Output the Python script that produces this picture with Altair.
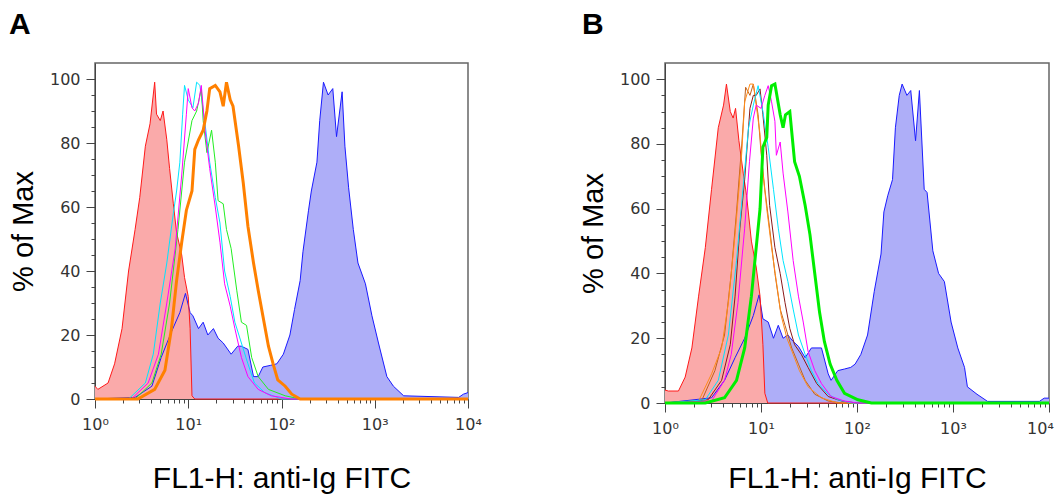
import altair as alt
import numpy as np
import pandas as pd

# ---------- Panel A (x given as log10 of FL1-H intensity, y as % of Max) ----------
A_red_log = [0, 0.03, 0.14, 0.21, 0.29, 0.36, 0.43, 0.48, 0.54, 0.59, 0.64, 0.66, 0.70, 0.73, 0.77, 0.80, 0.84, 0.875, 0.93, 0.96, 1.0, 1.02, 1.04, 1.07, 4.0]
A_red_val = [4, 3, 5, 11, 22, 40, 53, 63, 79, 86, 99, 89, 87, 90, 81, 72, 61, 52, 45, 38, 32, 22, 1, 0, 0]

A_blue_log = [0, 0.43, 0.61, 0.71, 0.82, 0.91, 0.97, 1.02, 1.05, 1.11, 1.16, 1.21, 1.27, 1.32, 1.375, 1.46, 1.53, 1.57, 1.64, 1.70, 1.75, 1.80, 1.88, 1.95, 2.02, 2.09, 2.14, 2.20, 2.23, 2.29, 2.32, 2.38, 2.41, 2.45, 2.50, 2.55, 2.59, 2.65, 2.68, 2.72, 2.77, 2.82, 2.90, 2.97, 3.04, 3.13, 3.20, 3.31, 3.90, 3.95, 4.0]
A_blue_val = [0, 0.5, 4, 13, 21, 27, 33, 27, 26, 22, 24, 20, 22, 19, 17.5, 14, 16.5, 16.5, 15.5, 7, 7, 10, 10.5, 11, 14, 20, 28, 37, 46, 59, 65, 74, 87, 99, 95, 97, 82, 96, 79, 66, 53, 42.5, 36, 26, 17.5, 7, 4, 1, 0.5, 1.5, 2]

A_cyan_log = [0, 0.36, 0.54, 0.625, 0.70, 0.77, 0.84, 0.875, 0.91, 0.94, 0.96, 1.0, 1.05, 1.09, 1.125, 1.18, 1.23, 1.29, 1.34, 1.39, 1.45, 1.50, 1.57, 1.64, 1.71, 1.82, 2.0, 4.0]
A_cyan_val = [0, 0, 5, 14, 30, 42.5, 58, 65, 74, 89, 98, 93.5, 91, 99, 98, 86, 74, 63, 55, 40, 32, 24, 17.5, 11, 5, 2, 0, 0]

A_magenta_log = [0, 0.39, 0.57, 0.68, 0.77, 0.86, 0.93, 0.98, 1.0, 1.04, 1.07, 1.11, 1.14, 1.18, 1.23, 1.29, 1.34, 1.39, 1.45, 1.50, 1.57, 1.64, 1.75, 1.89, 2.1, 4.0]
A_magenta_val = [0, 0, 5, 14, 30, 47, 70, 89, 97, 91, 90, 92.5, 98, 84, 72, 60, 49, 36, 29, 22, 13, 7, 3, 1, 0, 0]

A_green_log = [0, 0.43, 0.61, 0.71, 0.80, 0.89, 0.96, 1.04, 1.09, 1.14, 1.16, 1.20, 1.25, 1.29, 1.32, 1.375, 1.41, 1.46, 1.52, 1.57, 1.625, 1.68, 1.75, 1.86, 2.04, 2.2, 4.0]
A_green_val = [0, 0, 5, 14, 30, 53, 74, 87, 90, 97, 87, 77, 84, 74, 62, 61, 53, 47, 34, 24, 23, 13, 7, 3, 1, 0, 0]

A_orange_log = [0, 0.46, 0.64, 0.75, 0.82, 0.875, 0.93, 0.98, 1.04, 1.07, 1.11, 1.16, 1.20, 1.23, 1.29, 1.34, 1.375, 1.41, 1.45, 1.48, 1.54, 1.59, 1.64, 1.70, 1.75, 1.80, 1.86, 1.91, 1.96, 2.04, 2.11, 2.2, 4.0]
A_orange_val = [0, 0, 3, 9, 22, 37, 49, 59, 65, 78, 81, 84, 90, 97, 98, 96, 91.5, 99, 93.5, 91.5, 79, 67.5, 54, 42.5, 34, 26, 16.5, 11, 6, 4, 1.5, 0, 0]

# ---------- Panel B ----------
B_red_log = [0, 0.035, 0.14, 0.21, 0.28, 0.35, 0.42, 0.485, 0.555, 0.61, 0.64, 0.68, 0.71, 0.735, 0.77, 0.815, 0.85, 0.90, 0.95, 0.99, 1.02, 1.04, 1.07, 4.0]
B_red_val = [4, 3.7, 3.7, 8, 17, 33, 48, 66, 85, 92, 98.5, 90, 88, 91, 81, 71, 64, 50, 42, 33, 18, 3, 0, 0]

B_blue_log = [0, 0.485, 0.62, 0.73, 0.83, 0.92, 0.98, 1.02, 1.075, 1.13, 1.18, 1.23, 1.28, 1.335, 1.39, 1.46, 1.525, 1.63, 1.70, 1.73, 1.80, 1.87, 1.935, 1.98, 2.04, 2.11, 2.18, 2.25, 2.28, 2.32, 2.37, 2.40, 2.44, 2.47, 2.52, 2.56, 2.61, 2.65, 2.70, 2.73, 2.79, 2.85, 2.91, 2.98, 3.05, 3.12, 3.15, 3.25, 3.36, 3.9, 3.95, 4.0]
B_blue_val = [0, 1.6, 7, 14, 20, 27, 33.4, 26, 25, 20, 24, 20, 21, 19, 17.5, 14, 17, 17, 9, 7, 10, 10.5, 11, 12, 15, 21, 34.5, 46, 59, 64, 69, 85, 95, 98.5, 95, 96.5, 81, 96.5, 66, 65, 47, 40, 37.5, 25, 17, 11, 5, 2.7, 0.5, 0.5, 1.5, 1.5]

B_sienna_log = [0, 0.38, 0.52, 0.62, 0.69, 0.745, 0.80, 0.84, 0.885, 0.92, 0.97, 1.0, 1.04, 1.09, 1.145, 1.20, 1.25, 1.32, 1.39, 1.46, 1.56, 1.70, 1.85, 4.0]
B_sienna_val = [0, 0.6, 10, 21, 40, 59, 80, 97.5, 95, 98.5, 89, 77.5, 66, 54, 40, 29, 24, 17, 12, 7, 2.7, 0.6, 0, 0]

B_orange_log = [0, 0.35, 0.485, 0.59, 0.66, 0.73, 0.77, 0.80, 0.83, 0.885, 0.92, 0.95, 0.99, 1.02, 1.06, 1.11, 1.16, 1.21, 1.27, 1.335, 1.40, 1.49, 1.63, 1.8, 4.0]
B_orange_val = [0, 0.6, 9, 17, 31, 52, 66, 77.5, 93, 98.5, 98.5, 92, 83, 71, 60, 48, 37.5, 27, 20, 15, 10, 5, 1.6, 0, 0]

B_maroon_log = [0, 0.45, 0.59, 0.68, 0.73, 0.78, 0.83, 0.885, 0.92, 0.95, 0.99, 1.02, 1.06, 1.09, 1.145, 1.20, 1.25, 1.30, 1.35, 1.42, 1.49, 1.58, 1.70, 1.84, 2.0, 4.0]
B_maroon_val = [0, 1, 7, 18, 33, 54, 69, 91, 95, 95, 97, 89, 76.5, 61, 48, 40, 31, 23, 18, 15, 11, 6, 2, 0.6, 0, 0]

B_cyan_log = [0, 0.42, 0.555, 0.66, 0.745, 0.815, 0.87, 0.92, 0.97, 1.02, 1.075, 1.13, 1.18, 1.23, 1.28, 1.335, 1.39, 1.46, 1.525, 1.595, 1.70, 1.80, 1.95, 4.0]
B_cyan_val = [0, 1, 7, 21, 44, 67, 85, 92, 98, 90, 79, 66, 54, 44, 37.5, 29, 21, 15, 10, 6, 2.7, 1, 0, 0]

B_magenta_log = [0, 0.485, 0.62, 0.69, 0.76, 0.83, 0.88, 0.92, 0.95, 1.0, 1.04, 1.075, 1.11, 1.145, 1.16, 1.20, 1.23, 1.28, 1.335, 1.39, 1.44, 1.49, 1.56, 1.63, 1.73, 1.87, 2.0, 4.0]
B_magenta_val = [0, 0.6, 7, 15, 31, 54, 74.5, 88, 92, 91, 95, 98, 93, 87, 76.5, 80.6, 71, 59, 44, 33, 25, 16, 10, 6, 2, 0.6, 0, 0]

B_green_log = [0, 0.42, 0.62, 0.745, 0.83, 0.90, 0.95, 0.99, 1.02, 1.06, 1.075, 1.11, 1.145, 1.20, 1.23, 1.255, 1.30, 1.35, 1.40, 1.46, 1.51, 1.56, 1.61, 1.66, 1.72, 1.79, 1.87, 2.01, 2.15, 4.0]
B_green_val = [0, 0, 1.6, 7, 17, 33, 48, 60, 79, 82, 92, 98, 98.5, 89, 85, 89, 90, 74.5, 70, 61, 52, 40, 28, 19, 12, 7, 3, 1, 0, 0]

# axis ticks
X_TICKS = [m * 10 ** d for d in range(4) for m in range(1, 10)] + [10000]
Y_TICKS = list(range(0, 101, 5))
X_LABELS = {1: "10⁰", 10: "10¹", 100: "10²", 1000: "10³", 10000: "10⁴"}


def frame(logs, vals):
    return pd.DataFrame({"fl1": 10 ** np.array(logs, dtype=float), "pct": vals})


def encodings(x_title_pad, last_label_shift):
    label_expr = " : ".join(
        f"datum.value == {k} ? '{v}'" for k, v in X_LABELS.items()
    ) + " : ''"
    xaxis = alt.Axis(
        values=X_TICKS,
        labelExpr=label_expr,
        tickSize={"condition": {"test": "indexof([1,10,100,1000,10000], datum.value) >= 0", "value": 9}, "value": 4},
        labelOffset={"condition": {"test": "datum.value == 10000", "value": last_label_shift}, "value": 0},
        labelOverlap=False,
        labelFlush=False,
        labelPadding=8,
        title="FL1-H: anti-Ig FITC",
        titleFontSize=30,
        titlePadding=x_title_pad,
    )
    yaxis = alt.Axis(
        values=Y_TICKS,
        labelExpr="datum.value % 20 == 0 ? datum.value : ''",
        tickSize={"condition": {"test": "datum.value % 20 == 0", "value": 9}, "value": 4},
        labelOverlap=False,
        labelFlush=False,
        labelPadding=6,
        title="% of Max",
        titleFontSize=29,
        titlePadding=11,
    )
    x = alt.X("fl1:Q", scale=alt.Scale(type="log", domain=[1, 10000], nice=False), axis=xaxis)
    y = alt.Y("pct:Q", scale=alt.Scale(domain=[0, 105], nice=False, zero=True), axis=yaxis)
    return x, y


def fill(logs, vals, color, ax):
    x, y = encodings(*ax)
    return alt.Chart(frame(logs, vals)).mark_area(color=color, opacity=1, interpolate="linear").encode(x=x, y=y)


def curve(logs, vals, color, width, ax):
    x, y = encodings(*ax)
    return alt.Chart(frame(logs, vals)).mark_line(color=color, strokeWidth=width).encode(x=x, y=y)


def panel_title(text, dx):
    return alt.TitleParams(
        text=text, anchor="start", frame="group", dx=dx, fontSize=30,
        font="Liberation Sans", fontWeight="bold", offset=23,
    )


BLUE_FILL, RED_FILL = "#aeaef8", "#faaaaa"
BLUE_LINE, RED_LINE = "#1a1aff", "#ff1a1a"
AX_A, AX_B = (31, 0), (27, -9)

panel_a = alt.layer(
    fill(A_blue_log, A_blue_val, BLUE_FILL, AX_A),
    fill(A_red_log, A_red_val, RED_FILL, AX_A),
    curve(A_blue_log, A_blue_val, BLUE_LINE, 1, AX_A),
    curve(A_red_log, A_red_val, RED_LINE, 1, AX_A),
    curve(A_cyan_log, A_cyan_val, "#00e5ff", 1, AX_A),
    curve(A_green_log, A_green_val, "#22ee22", 1, AX_A),
    curve(A_magenta_log, A_magenta_val, "#ff00ff", 1, AX_A),
    curve(A_orange_log, A_orange_val, "#ff8000", 3, AX_A),
).properties(width=373, height=336, title=panel_title("A", -86))

panel_b = alt.layer(
    fill(B_blue_log, B_blue_val, BLUE_FILL, AX_B),
    fill(B_red_log, B_red_val, RED_FILL, AX_B),
    curve(B_blue_log, B_blue_val, BLUE_LINE, 1, AX_B),
    curve(B_red_log, B_red_val, RED_LINE, 1, AX_B),
    curve(B_sienna_log, B_sienna_val, "#c0601a", 1, AX_B),
    curve(B_orange_log, B_orange_val, "#ff8c1a", 1, AX_B),
    curve(B_maroon_log, B_maroon_val, "#8b1a1a", 1, AX_B),
    curve(B_cyan_log, B_cyan_val, "#00e5ff", 1, AX_B),
    curve(B_magenta_log, B_magenta_val, "#ff00ff", 1, AX_B),
    curve(B_green_log, B_green_val, "#00ee00", 3, AX_B),
).properties(width=384, height=340, title=panel_title("B", -83))

chart = (
    alt.hconcat(panel_a, panel_b, spacing=95)
    .properties(padding={"left": 0, "top": 1, "right": 0, "bottom": 0})
    .configure_view(stroke="#666666", strokeWidth=1.5)
    .configure_axis(
        grid=False,
        labelFont="DejaVu Sans",
        labelFontSize=16,
        labelColor="#333333",
        titleFont="Liberation Sans",
        titleFontWeight="normal",
        titleColor="#000000",
        tickColor="#444444",
        domainColor="#444444",
    )
)

chart.save("out.html", embed_options={"renderer": "svg", "actions": False})
